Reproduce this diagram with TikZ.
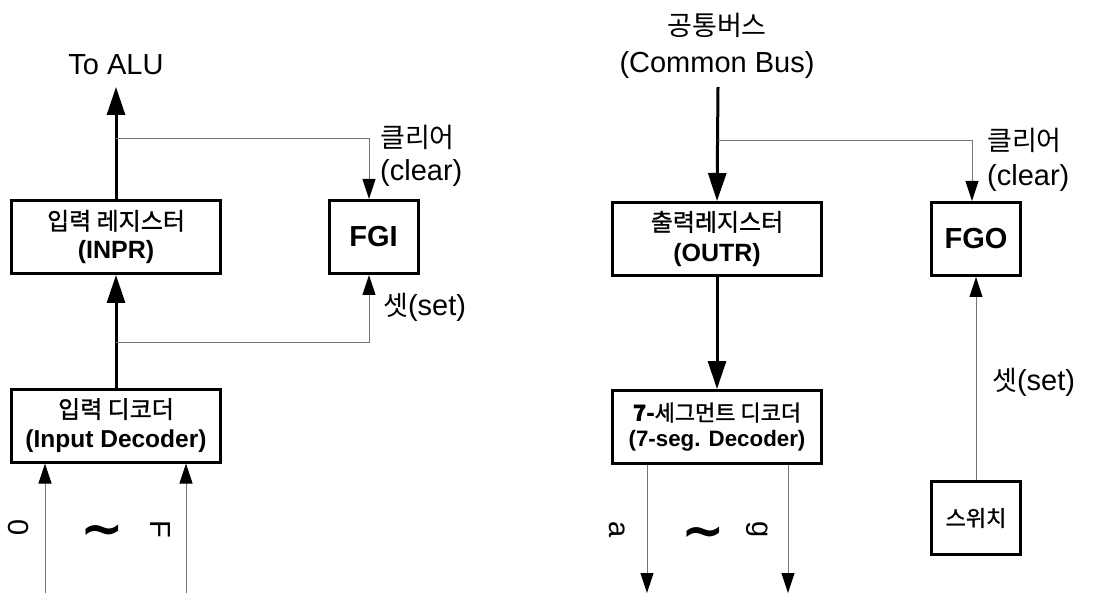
\documentclass[tikz,border=0pt]{standalone}
\usepackage{fontspec}
\setmainfont{Liberation Sans}
\newfontfamily\kr{Noto Sans CJK KR}
\newfontfamily\krb[FakeBold=1.2]{Noto Sans CJK KR}
\newfontfamily\djv{DejaVu Sans}
\usetikzlibrary{arrows.meta}
\begin{document}
\begin{tikzpicture}[x=1pt,y=-1pt,
  box/.style={draw, line width=3pt, minimum width=209pt, minimum height=73pt, inner sep=0pt, align=center},
  flag/.style={draw, line width=3pt, minimum width=89pt, minimum height=73pt, inner sep=0pt, font=\fontsize{29}{31}\selectfont\bfseries},
  bus/.style={line width=3pt, -{Triangle[length=28pt,width=18pt]}},
  sig/.style={line width=1pt, draw=black!55, -{Triangle[length=20pt,width=13pt,color=black]}},
  lbl/.style={font=\fontsize{29}{30}\selectfont, inner sep=0pt},
  kl/.style={font=\kr\fontsize{27}{30}\selectfont, inner sep=0pt},
  tl/.style={font=\djv\bfseries\fontsize{52}{52}\selectfont, inner sep=0pt},
]
\useasboundingbox (0,0) rectangle (1118,593);

% ---------------- left part ----------------
\node[box] (inpr) at (116,237) {{\krb\fontsize{24}{24}\selectfont 입력 레지스터}\\[8pt]{\bfseries\fontsize{25}{25}\selectfont (INPR)}};
\node[flag] (fgi) at (373.5,237) {FGI};
\node[box] (dec) at (116,425.5) {{\krb\fontsize{24}{24}\selectfont 입력 디코더}\\[9pt]{\bfseries\fontsize{24.5}{25}\selectfont (Input Decoder)}};

\node[lbl] (alu) at (116,65) {To ALU};
\coordinate (alutip) at (116,87);
\coordinate (clrL) at (116,139);
\coordinate (setL) at (116,342);
\coordinate (in0) at (45,593);
\coordinate (inF) at (186,593);

\draw[bus] (inpr.north) -- (alutip);
\draw[bus] (dec.north) -- (inpr.south);
\draw[sig] (clrL) -| ([xshift=-4.5pt]fgi.north);
\draw[sig] (setL) -| ([xshift=-4.5pt]fgi.south);
\draw[sig] (in0) -- (in0 |- dec.south);
\draw[sig] (inF) -- (inF |- dec.south);

\node[kl, anchor=west] (clrk1) at (380,137) {클리어};
\node[lbl, anchor=west] (clre1) at (380,173) {(clear)};
\node[lbl, anchor=west] (set1) at (383,307) {{\kr\fontsize{27}{30}\selectfont 셋}(set)};

\node[lbl, rotate=-90] (l0) at (18,528) {0};
\node[tl] (t1) at (102,536) {∼};
\node[lbl, rotate=-90] (lF) at (160,529) {F};

% ---------------- right part ----------------
\node[kl] (busk) at (717,25) {공통버스};
\node[lbl] (buse) at (717,65) {(Common Bus)};
\coordinate (bustop) at (718,87);
\coordinate (clrR) at (718,141);

\node[box] (outr) at (717,239) {{\krb\fontsize{24}{24}\selectfont 출력레지스터}\\[10pt]{\bfseries\fontsize{25}{25}\selectfont (OUTR)}};
\node[flag] (fgo) at (976,239) {FGO};
\node[box] (seg) at (717,427) {{\krb\fontsize{22}{22}\selectfont\mbox{\bfseries\fontsize{22}{22}\selectfont 7-}세그먼트 디코더}\\[7pt]{\bfseries\fontsize{22.3}{23}\selectfont (7-seg. Decoder)}};
\node[flag, font=\krb\fontsize{22}{24}\selectfont] (sw) at (976,518) {스위치};

\coordinate (outa) at (647,593);
\coordinate (outg) at (788,593);

\draw[bus] (bustop) -- (outr.north);
\draw[bus] (outr.south) -- (seg.north);
\draw[sig] (clrR) -| ([xshift=-4pt]fgo.north);
\draw[sig] (sw.north) -- (fgo.south);
\draw[sig] (outa |- seg.south) -- (outa);
\draw[sig] (outg |- seg.south) -- (outg);

\node[kl, anchor=west] (clrk2) at (987,140) {클리어};
\node[lbl, anchor=west] (clre2) at (987,178) {(clear)};
\node[lbl, anchor=west] (set2) at (992,382) {{\kr\fontsize{27}{30}\selectfont 셋}(set)};

\node[lbl, rotate=-90] (la) at (617,530) {a};
\node[tl] (t2) at (703,538) {∼};
\node[lbl, rotate=-90] (lg) at (757,530) {g};
\end{tikzpicture}
\end{document}
